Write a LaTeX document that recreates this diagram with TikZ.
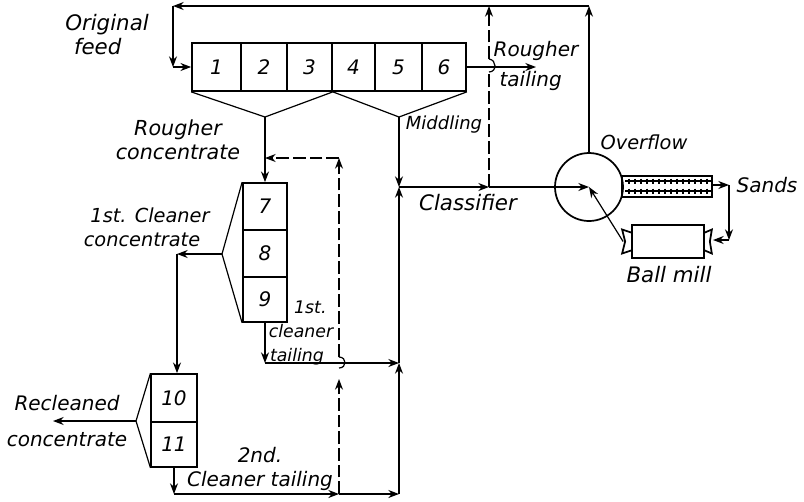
\documentclass[tikz,border=0pt]{standalone}
\usepackage{fontspec}
\setmainfont{DejaVu Sans}
\usetikzlibrary{arrows.meta}
\tikzset{every picture/.style={line width=0.9pt}}
\tikzset{
cell/.style={draw,line width=1.3pt,inner sep=0pt,font=\fontsize{15}{18}\selectfont\itshape},
shell/.style={draw,line width=1.3pt,inner sep=0pt},
lbl/.style={inner sep=0.75pt,align=center,font=\fontsize{#1}{18}\selectfont\itshape},
lbl/.default=15,
flow/.style={-{Stealth[length=8pt,width=6pt]}},
dashline/.style={dash pattern=on 9.5pt off 3pt}}

\begin{document}
\begin{tikzpicture}[x=0.75pt,y=0.75pt,yscale=-1,xscale=1]
\useasboundingbox (0,0) rectangle (804,501);

%Rougher bank
\foreach \n/\x/\w in {1/216.5/49,2/264/46,3/309.5/45,4/353.5/43,5/398.5/47,6/444/44}
  \node [cell,minimum width=\w*0.75pt,minimum height=36pt] (c\n) at (\x,67) {\n};
%Cleaner banks
\foreach \n/\y/\h in {7/206.5/47,8/253.5/47,9/299.5/45}
  \node [cell,minimum width=33pt,minimum height=\h*0.75pt] (c\n) at (265,\y) {\n};
\foreach \n/\y/\h in {10/398/48,11/444.5/45}
  \node [cell,minimum width=34pt,minimum height=\h*0.75pt] (c\n) at (174,\y) {\n};

%Classifier, rake and mill
\node [shell,circle,minimum size=51pt] (clf) at (589,187) {};
\node [shell,minimum width=67pt,minimum height=15.5pt] (rake) at (667,186.5) {};
\node [shell,minimum width=54pt,minimum height=25pt] (mill) at (668,241.5) {};
\foreach \y in {181,191} {
  \draw (625,\y) -- (711,\y);
  \foreach \x in {629,635,...,709}
    \draw (\x,\y-2.5) -- (\x,\y+2.5);
}
%Mill trunnions
\draw [line width=1.3pt] (mill.west) ++(0,-9) -- ++(-9,-3) -- ++(3,12) -- ++(-3,12) -- ++(9,-3);
\draw [line width=1.3pt] (mill.east) ++(0,-9) -- ++(7,-3) -- ++(-2,12) -- ++(2,12) -- ++(-7,-3);

%Junctions
\coordinate (hopa) at (265,117);
\coordinate (hopb) at (399,117);
\coordinate (hopc) at (222,254);
\coordinate (hopd) at (136,421);
\coordinate (jmid) at (399,187);
\coordinate (jover) at (489,187);
\coordinate (jtop) at (589,6);
\coordinate (jdash) at (489,6);
\coordinate (jfeed) at (173,6);
\coordinate (jin) at (173,67);
\coordinate (jconc) at (177,254);
\coordinate (jrec) at (53,421);
\coordinate (jret) at (339,158);
\coordinate (jback) at (265,158);
\coordinate (jtaila) at (265,363);
\coordinate (jtailb) at (399,363);
\coordinate (jsec) at (174,494);
\coordinate (jbot) at (399,494);
\coordinate (jbotd) at (339,494);
\coordinate (jrake) at (729,185);
\coordinate (jmill) at (729,240);
\coordinate (rtail) at (536,67);

%Hoppers
\draw (c1.south west) -- (hopa) -- (c3.south east) -- (hopb) -- (c6.south east);
\draw (c7.north west) -- (hopc) -- (c9.south west);
\draw (c10.north west) -- (hopd) -- (c11.south west);

%Straight Lines
\draw (hopa) -- (jback);
\draw [flow] (jback) -- (c7.north);
\draw [flow] (hopb) -- (jmid);
\draw [flow] (jmid) -- (jover);
\draw (jover) -- (clf.west);
\draw [flow] (clf.west) -- (clf.center);
\draw [flow] (clf.north) -- (jtop);
\draw [flow] (jtop) -- (jfeed);
\draw [flow] (jfeed) -- (jin);
\draw [flow] (jin) -- (c1.west);
\draw [flow] (c6.east) -- (rtail);
\draw [flow] (hopc) -- (jconc);
\draw [flow] (jconc) -- (jconc |- c10.north);
\draw [flow] (hopd) -- (jrec);
\draw [flow] (jtaila |- c9.south) -- (jtaila);
\draw [flow] (jtaila) -- (jtailb);
\draw [flow] (jsec |- c11.south) -- (jsec);
\draw [flow] (jsec) -- (jbotd);
\draw [flow] (jbotd) -- (jbot);
\draw [flow] (jbot) -- (jtailb);
\draw [flow] (jtailb) -- (jmid);
\draw [flow] (rake.east |- jrake) -- (jrake);
\draw [flow] (jrake) -- (jmill);
\draw [flow] (jmill) -- ++(-16,0);
\draw [flow] (mill.west) ++(-8,0) -- (clf.center);

%Dashed returns
\draw [dashline,flow] (jbotd) -- (339,379);
\draw (339,368) .. controls (347,368) and (347,357) .. (339,357);
\draw [dashline,flow] (339,357) -- (jret);
\draw [dashline,flow] (jret) -- (jback);
\draw [dashline] (jover) -- (489,72);
\draw (489,72) .. controls (497,72) and (497,60) .. (489,59);
\draw [dashline,flow] (489,59) -- (jdash);

% Text Node
\node [lbl=16] (orig) at (107,35) {Original\\\hspace*{-14pt}feed};
\node [lbl=15.5] (rconc) at (178,140) {Rougher\\concentrate};
\node [lbl=14.5] (cconc) at (142,227) {\hspace*{12pt}1st. Cleaner\\concentrate};
\node [lbl=13.5] (midd) at (444,125) {Middling};
\node [lbl=16] (clsf) at (468,203) {Classifier};
\node [lbl] (rtl) at (536,66) {Rougher\\[5pt]\hspace*{-8pt}tailing};
\node [lbl=14.5] (over) at (644,142) {Overflow};
\node [lbl] (sands) at (767,185) {Sands};
\node [lbl=16] (ball) at (669,275) {Ball mill};
\node [lbl=13] (ctail) at (301,333) {\hspace*{14pt}1st.\\cleaner\\\hspace*{-6pt}tailing};
\node [lbl] (recl) at (67,421) {Recleaned\\[9pt]concentrate};
\node [lbl] (stail) at (260,469) {2nd.\\Cleaner tailing};
\end{tikzpicture}
\end{document}
